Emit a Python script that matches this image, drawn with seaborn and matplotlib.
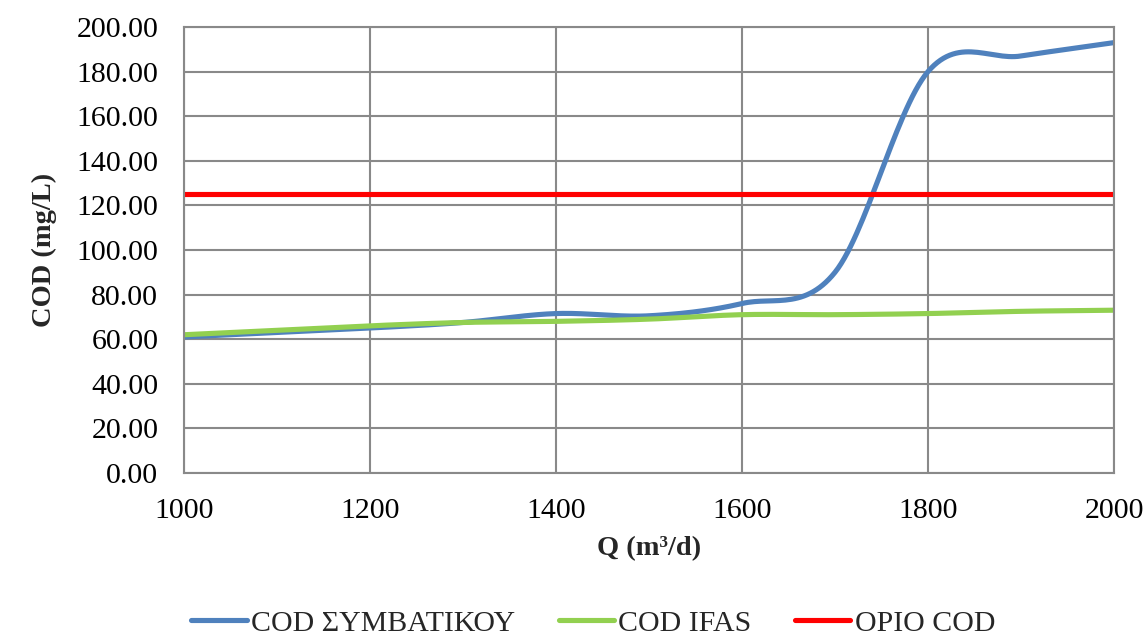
import numpy as np
import pandas as pd
import matplotlib
matplotlib.use("Agg")
import matplotlib.pyplot as plt
import seaborn as sns

# Flow rate (m3/d) and effluent COD (mg/L)
q = [1000, 1100, 1200, 1300, 1400, 1500, 1600, 1700, 1800, 1900, 2000]
cod_conventional = [61.0, 63.0, 65.0, 67.5, 71.5, 70.5, 76.0, 90.0, 180.0, 187.0, 193.0]
cod_ifas = [62.0, 64.0, 66.0, 67.5, 68.0, 69.0, 71.0, 71.0, 71.5, 72.5, 73.0]
cod_limit = [125.0] * len(q)

labels = ["COD ΣΥΜΒΑΤΙΚΟΥ", "COD IFAS", "ΟΡΙΟ COD"]
colors = ["#4F81BD", "#92D050", "#FF0000"]


def smooth(x, y, n=30):
    """Catmull-Rom curve through the points (spreadsheet-style smoothed line)."""
    x = np.asarray(x, float)
    y = np.asarray(y, float)
    px = np.concatenate([[2 * x[0] - x[1]], x, [2 * x[-1] - x[-2]]])
    py = np.concatenate([[2 * y[0] - y[1]], y, [2 * y[-1] - y[-2]]])
    xs, ys = [], []
    for i in range(1, len(px) - 2):
        t = np.linspace(0, 1, n, endpoint=False)
        h00 = 2 * t**3 - 3 * t**2 + 1
        h10 = t**3 - 2 * t**2 + t
        h01 = -2 * t**3 + 3 * t**2
        h11 = t**3 - t**2
        mx0, mx1 = (px[i + 1] - px[i - 1]) / 2, (px[i + 2] - px[i]) / 2
        my0, my1 = (py[i + 1] - py[i - 1]) / 2, (py[i + 2] - py[i]) / 2
        xs.append(h00 * px[i] + h10 * mx0 + h01 * px[i + 1] + h11 * mx1)
        ys.append(h00 * py[i] + h10 * my0 + h01 * py[i + 1] + h11 * my1)
    xs.append([x[-1]])
    ys.append([y[-1]])
    return np.concatenate(xs), np.concatenate(ys)


frames = []
for lab, vals in zip(labels, [cod_conventional, cod_ifas, cod_limit]):
    sx, sy = smooth(q, vals)
    frames.append(pd.DataFrame({"Q": sx, "COD": sy, "series": lab}))
df = pd.concat(frames, ignore_index=True)

sns.set_style("white")
plt.rcParams["font.family"] = ["Liberation Serif", "DejaVu Serif"]

fig = plt.figure(figsize=(11.46, 6.35), dpi=100)
ax = fig.add_axes([184 / 1146, 1 - 473 / 635, (1114 - 184) / 1146, (473 - 27) / 635])

sns.lineplot(data=df, x="Q", y="COD", hue="series", hue_order=labels,
             palette=colors, linewidth=3.7, ax=ax, sort=False, estimator=None)

ax.set_xlim(1000, 2000)
ax.set_ylim(0, 200)
ax.set_xticks(range(1000, 2001, 200))
ax.set_yticks(range(0, 201, 20))
ax.set_yticklabels([f"{v:.2f}" for v in range(0, 201, 20)])
ax.grid(True, color="#898989", linewidth=1.5)
ax.set_axisbelow(True)
for s in ax.spines.values():
    s.set_color("#898989")
    s.set_linewidth(1.5)
ax.tick_params(axis="both", labelsize=21.5, colors="#898989", labelcolor="black",
               width=1.5, direction="out")
ax.tick_params(axis="x", length=6, pad=12)
ax.tick_params(axis="y", length=6.5, pad=12)

ax.set_xlabel("Q (m³/d)", fontsize=20.5, fontweight="bold", labelpad=9)
ax.set_ylabel("COD (mg/L)", fontsize=20.5, fontweight="bold", labelpad=14)

handles, labs = ax.get_legend_handles_labels()
ax.legend(handles, labs, loc="center", bbox_to_anchor=(0.44, -0.337),
          ncol=3, frameon=False, fontsize=21.5, handlelength=1.85,
          handletextpad=0.15, columnspacing=1.45)

fig.savefig("out.png", dpi=100)
